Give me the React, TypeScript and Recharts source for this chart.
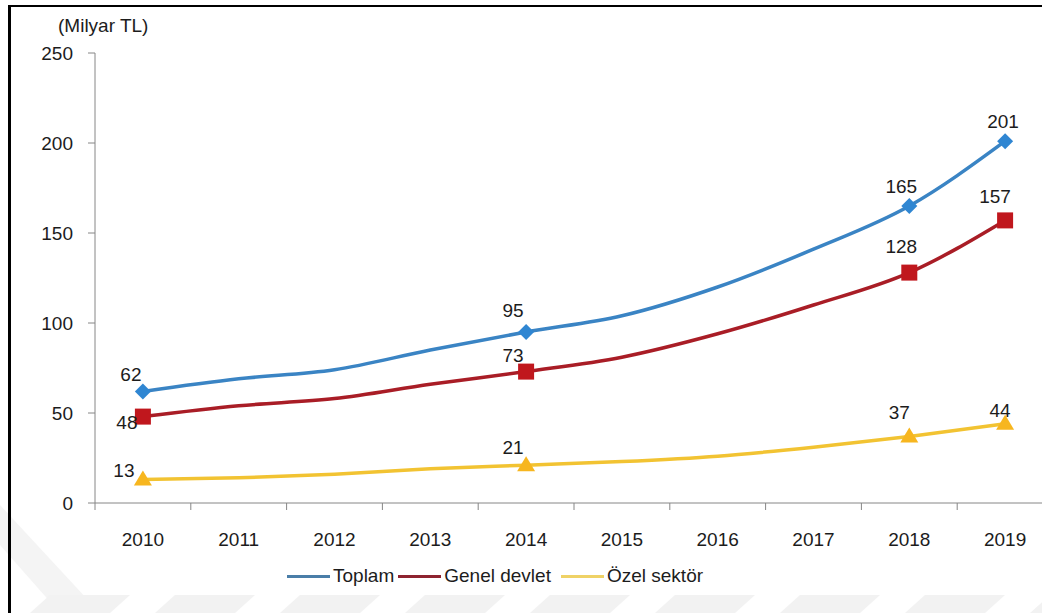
import React from 'react';
import { LabelList, Legend, Line, LineChart, XAxis, YAxis } from 'recharts';

// values in milyar TL
const years = ['2010', '2011', '2012', '2013', '2014', '2015', '2016', '2017', '2018', '2019'];
const toplam = [62, 69, 74, 85, 95, 104, 120, 141, 165, 201];
const genelDevlet = [48, 54, 58, 66, 73, 81, 94, 110, 128, 157];
const ozelSektor = [13, 14, 16, 19, 21, 23, 26, 31, 37, 44];
const labeledIndices = [0, 4, 8, 9];
const yTicks = [0, 50, 100, 150, 200, 250];

const data = years.map((year, i) => ({
  year,
  toplam: toplam[i],
  genel: genelDevlet[i],
  ozel: ozelSektor[i],
}));

const FONT = '"Liberation Sans", Arial, sans-serif';
const TEXT = '#1c1c1c';
const AXIS = '#868686';
const HALF_BAND = 47.9;

const series = [
  { key: 'toplam', name: 'Toplam', line: '#3a84c4', marker: '#2f86d2', legend: '#4a7ea8' },
  { key: 'genel', name: 'Genel devlet', line: '#a91d26', marker: '#c0171d', legend: '#8e2330' },
  { key: 'ozel', name: 'Özel sektör', line: '#f2c332', marker: '#f7b61f', legend: '#efd266' },
];

// label offsets (dx, dy of baseline) per series / index
const labelOffsets: Record<string, Record<number, [number, number]>> = {
  toplam: { 0: [-12, -10], 4: [-13, -15], 8: [-8, -13], 9: [-2, -13] },
  genel: { 0: [-16, 12], 4: [-13, -10], 8: [-8, -20], 9: [-10, -17] },
  ozel: { 0: [-19, -3], 4: [-13, -11], 8: [-10, -17], 9: [-5, -7] },
};

const makeDot = (key: string, color: string) => (props: any) => {
  const { cx, cy, index } = props;
  if (!labeledIndices.includes(index) || cx == null || cy == null) {
    return <g key={`${key}-dot-${index}`} />;
  }
  if (key === 'toplam') {
    const r = 8;
    return (
      <polygon
        key={`${key}-dot-${index}`}
        points={`${cx},${cy - r} ${cx + r},${cy} ${cx},${cy + r} ${cx - r},${cy}`}
        fill={color}
      />
    );
  }
  if (key === 'genel') {
    return <rect key={`${key}-dot-${index}`} x={cx - 8} y={cy - 8} width={16} height={16} fill={color} />;
  }
  return (
    <polygon
      key={`${key}-dot-${index}`}
      points={`${cx},${cy - 9} ${cx + 9},${cy + 6} ${cx - 9},${cy + 6}`}
      fill={color}
    />
  );
};

const makeLabel = (key: string) => (props: any) => {
  const { x, y, value, index } = props;
  if (!labeledIndices.includes(index)) return null;
  const [dx, dy] = labelOffsets[key][index] || [0, -12];
  return (
    <text x={x + dx} y={y + dy} textAnchor="middle" fill={TEXT} fontSize={19} fontFamily={FONT}>
      {value}
    </text>
  );
};

const XTick = (props: any) => {
  const { x, y, payload, index } = props;
  const last = index === years.length - 1;
  return (
    <g>
      <line x1={x - HALF_BAND} x2={x - HALF_BAND} y1={y} y2={y + 7} stroke={AXIS} />
      {last && <line x1={x + HALF_BAND} x2={x + HALF_BAND} y1={y} y2={y + 7} stroke={AXIS} />}
      <text x={x} y={y + 43} textAnchor="middle" fill={TEXT} fontSize={19} fontFamily={FONT}>
        {payload.value}
      </text>
    </g>
  );
};

const LegendContent = () => (
  <div style={{ display: 'flex', alignItems: 'center', height: 22, fontFamily: FONT, fontSize: 19, color: TEXT }}>
    {series.map((s, i) => (
      <div key={s.key} style={{ display: 'flex', alignItems: 'center', marginRight: i === 1 ? 10 : 4 }}>
        <div style={{ width: 43, height: 3, background: s.legend, marginRight: 3 }} />
        <span>{s.name}</span>
      </div>
    ))}
  </div>
);

const Watermark = () => (
  <svg width={1042} height={613} style={{ position: 'absolute', left: 0, top: 0 }}>
    <polygon points="0,505 0,545 60,613 100,613" fill="#f4f4f4" />
    {[0, 1, 2, 3, 4, 5, 6, 7, 8].map((k) => {
      const x0 = 30 + k * 125;
      return (
        <polygon
          key={k}
          points={`${x0 + 20},595 ${x0 + 100},595 ${x0 + 80},613 ${x0},613`}
          fill="#f2f2f2"
        />
      );
    })}
  </svg>
);

export default function App() {
  return (
    <div
      style={{
        position: 'absolute',
        left: 0,
        top: 0,
        width: 1042,
        height: 613,
        overflow: 'hidden',
        background: '#fff',
        fontFamily: FONT,
      }}
    >
      <Watermark />
      <div
        style={{
          position: 'absolute',
          left: 8,
          top: 5,
          right: 0,
          bottom: 0,
          borderLeft: '3px solid #000',
          borderTop: '2px solid #000',
        }}
      />
      <div style={{ position: 'absolute', left: 58, top: 15, fontSize: 19, color: TEXT, lineHeight: 'normal' }}>
        (Milyar TL)
      </div>
      <LineChart width={1100} height={613} data={data} margin={{ top: 53, right: 47, bottom: 26, left: 0 }}>
        <XAxis
          dataKey="year"
          height={62}
          interval={0}
          padding={{ left: HALF_BAND, right: HALF_BAND }}
          axisLine={{ stroke: AXIS }}
          tickLine={false}
          tickSize={0}
          tickMargin={0}
          tick={<XTick />}
        />
        <YAxis
          width={95}
          domain={[0, 250]}
          ticks={yTicks}
          interval={0}
          axisLine={{ stroke: AXIS }}
          tickLine={{ stroke: AXIS }}
          tickSize={7}
          tickMargin={15}
          tick={{ fill: TEXT, fontSize: 19, fontFamily: FONT }}
        />
        <Legend
          verticalAlign="bottom"
          height={22}
          content={<LegendContent />}
          wrapperStyle={{ left: 287, width: 480 }}
        />
        {series.map((s) => (
          <Line
            key={s.key}
            type="monotone"
            dataKey={s.key}
            name={s.name}
            stroke={s.line}
            strokeWidth={3.5}
            dot={makeDot(s.key, s.marker)}
            activeDot={false}
            isAnimationActive={false}
          >
            <LabelList dataKey={s.key} content={makeLabel(s.key)} />
          </Line>
        ))}
      </LineChart>
    </div>
  );
}
